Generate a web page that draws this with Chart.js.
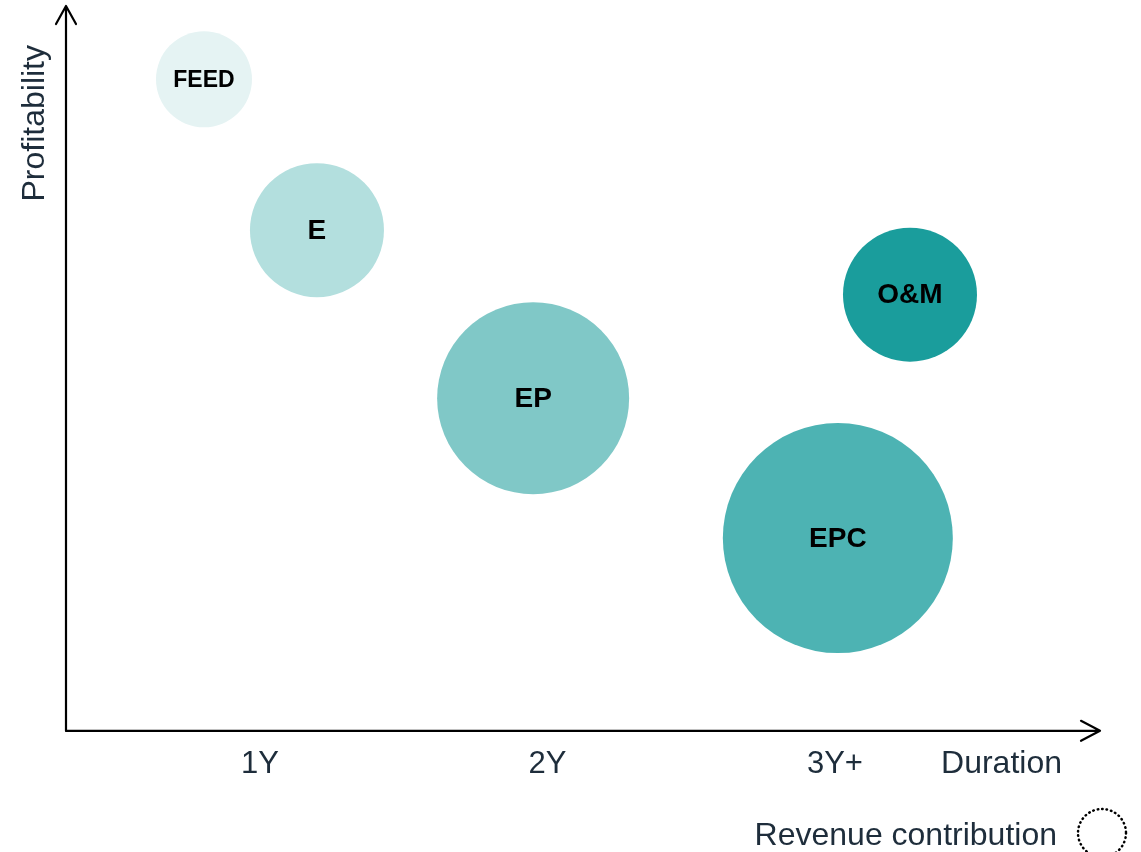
<!DOCTYPE html>
<html>
<head>
<meta charset="utf-8">
<script src="https://cdn.jsdelivr.net/npm/chart.js@4/dist/chart.umd.min.js"></script>
<style>
  html, body { margin: 0; padding: 0; background: #ffffff; }
  canvas { display: block; }
</style>
</head>
<body>
<canvas id="c" width="1141" height="852"></canvas>
<script>
// ---- data ----
const categories = ['FEED', 'E', 'EP', 'EPC', 'O&M'];
const durationValues = [0.805, 1.198, 1.950, 3.010, 3.261];      // x (years)
const profitabilityValues = [9.50, 7.30, 4.85, 2.81, 6.36];        // y (relative)
const revenueContribution = [48, 67, 96, 115, 67];                 // bubble radius
const bubbleColors = ['#e5f3f3', '#b3dfde', '#80c8c7', '#4db3b3', '#1a9d9c'];
const tickValues = [1, 2, 3];
const tickLabels = ['1Y', '2Y', '3Y+'];

const FONT = "'Liberation Sans', Arial, Helvetica, sans-serif";
const TEXT = '#1e2d3b';
Chart.defaults.font.family = FONT;

const decorPlugin = {
  id: 'decor',
  afterDatasetsDraw(chart) {
    const ctx = chart.ctx;
    const a = chart.chartArea;
    ctx.save();
    // axes with arrows
    ctx.strokeStyle = '#000000';
    ctx.lineWidth = 2.2;
    ctx.lineCap = 'round';
    ctx.lineJoin = 'round';
    const yTip = a.top - 39;
    ctx.beginPath();
    ctx.moveTo(a.left, a.bottom);
    ctx.lineTo(a.left, yTip);
    ctx.moveTo(a.left - 10, yTip + 18);
    ctx.lineTo(a.left, yTip);
    ctx.lineTo(a.left + 10, yTip + 18);
    ctx.stroke();
    ctx.beginPath();
    ctx.moveTo(a.left, a.bottom);
    ctx.lineTo(a.right, a.bottom);
    ctx.moveTo(a.right - 19, a.bottom - 10);
    ctx.lineTo(a.right, a.bottom);
    ctx.lineTo(a.right - 19, a.bottom + 10);
    ctx.stroke();

    // bubble labels
    const meta = chart.getDatasetMeta(0);
    ctx.fillStyle = '#000000';
    ctx.textAlign = 'center';
    ctx.textBaseline = 'middle';
    meta.data.forEach((el, i) => {
      const size = categories[i] === 'FEED' ? 23 : 28;
      ctx.font = 'bold ' + size + 'px ' + FONT;
      ctx.fillText(categories[i], el.x, el.y + 1);
    });

    // Duration axis label
    ctx.fillStyle = TEXT;
    ctx.font = '32px ' + FONT;
    ctx.textAlign = 'right';
    ctx.fillText('Duration', a.right - 38, a.bottom + 33);

    // Revenue contribution legend
    ctx.fillText('Revenue contribution', a.right - 43, 836);
    ctx.strokeStyle = '#000000';
    ctx.lineWidth = 2.5;
    ctx.lineCap = 'round';
    ctx.setLineDash([0.5, 4]);
    ctx.beginPath();
    ctx.arc(a.right + 2, 833, 24, 0, Math.PI * 2);
    ctx.stroke();
    ctx.restore();
  }
};

new Chart(document.getElementById('c'), {
  type: 'bubble',
  data: {
    datasets: [{
      label: 'Revenue contribution',
      data: categories.map((c, i) => ({ x: durationValues[i], y: profitabilityValues[i], r: revenueContribution[i] })),
      backgroundColor: bubbleColors,
      borderWidth: 0,
      hoverRadius: 0,
      clip: false
    }]
  },
  options: {
    responsive: false,
    animation: false,
    events: [],
    layout: { autoPadding: false, padding: { left: 0, right: 41, top: 45, bottom: 54 } },
    plugins: { legend: { display: false }, tooltip: { enabled: false } },
    scales: {
      x: {
        type: 'linear',
        min: 0.325,
        max: 3.922,
        afterBuildTicks(scale) { scale.ticks = tickValues.map(v => ({ value: v })); },
        grid: { display: false, drawTicks: false },
        border: { display: false },
        ticks: {
          padding: 15,
          color: TEXT,
          font: { size: 31, family: FONT },
          maxRotation: 0,
          autoSkip: false,
          callback: (v, i) => tickLabels[i]
        }
      },
      y: {
        type: 'linear',
        min: 0,
        max: 10,
        grid: { display: false, drawTicks: false },
        border: { display: false },
        ticks: { display: false },
        title: {
          display: true,
          text: 'Profitability',
          align: 'end',
          color: TEXT,
          font: { size: 32, family: FONT },
          padding: { top: 15.8, bottom: 11.8 }
        }
      }
    }
  },
  plugins: [decorPlugin]
});
</script>
</body>
</html>
